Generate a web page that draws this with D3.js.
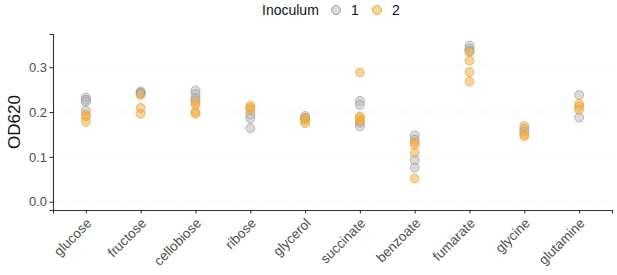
<!DOCTYPE html>
<html>
<head>
<meta charset="utf-8">
<script src="https://cdn.jsdelivr.net/npm/d3@7"></script>
<style>
  body { margin: 0; background: #fff; }
  text { font-family: "Liberation Sans", Arial, sans-serif; }
</style>
</head>
<body>
<svg id="svg" width="617" height="275"></svg>
<script>
// carbon sources on the x axis
let substrates = ["glucose", "fructose", "cellobiose", "ribose", "glycerol",
  "succinate", "benzoate", "fumarate", "glycine", "glutamine"];

// OD620 readings per substrate, inoculum 1
let inoc1 = [
  [0.232, 0.227, 0.223, 0.203],
  [0.246, 0.243, 0.241],
  [0.248, 0.240, 0.231, 0.226],
  [0.194, 0.186, 0.164],
  [0.191, 0.186],
  [0.225, 0.216, 0.176, 0.168],
  [0.148, 0.138, 0.093, 0.076],
  [0.348, 0.341, 0.336],
  [0.163, 0.157],
  [0.238, 0.188]
];

// OD620 readings per substrate, inoculum 2
let inoc2 = [
  [0.194, 0.190, 0.178],
  [0.238, 0.209, 0.196],
  [0.221, 0.216, 0.200, 0.196],
  [0.214, 0.209, 0.205],
  [0.187, 0.181, 0.175],
  [0.288, 0.190, 0.186, 0.180],
  [0.132, 0.127, 0.109, 0.052],
  [0.334, 0.315, 0.289, 0.268],
  [0.169, 0.150, 0.146],
  [0.218, 0.212, 0.205]
];

let yTicks = [0.0, 0.1, 0.2, 0.3];

let margin = { top: 34, right: 5, bottom: 65, left: 53 };
let width = 617, height = 275;

let svg = d3.select("#svg");

let x = d3.scalePoint()
  .domain(substrates)
  .range([margin.left, width - margin.right])
  .padding(0.6);

let y = d3.scaleLinear()
  .domain([-0.0185, 0.374])
  .range([height - margin.bottom, margin.top]);

// faint dotted grid
svg.append("g")
  .selectAll("line")
  .data(yTicks)
  .enter()
  .append("line")
  .attr("x1", margin.left)
  .attr("x2", width - margin.right)
  .attr("y1", d => y(d))
  .attr("y2", d => y(d))
  .attr("stroke", "#e4e4e4")
  .attr("stroke-width", 0.6)
  .attr("stroke-dasharray", "1.5,2");

// flatten data into points
let points = [];
substrates.forEach(function(s, i) {
  inoc1[i].forEach(v => points.push({ s: s, v: v, g: 1 }));
  inoc2[i].forEach(v => points.push({ s: s, v: v, g: 2 }));
});

let fill = { 1: "#b8b8b8", 2: "#f2a93b" };
let stroke = { 1: "#8c8c8c", 2: "#e39a2a" };

svg.append("g")
  .selectAll("circle")
  .data(points)
  .enter()
  .append("circle")
  .attr("cx", d => x(d.s))
  .attr("cy", d => y(d.v))
  .attr("r", 4.5)
  .attr("fill", d => fill[d.g])
  .attr("fill-opacity", 0.5)
  .attr("stroke", d => stroke[d.g])
  .attr("stroke-opacity", 0.7)
  .attr("stroke-width", 0.8);

// axes
let yAxis = svg.append("g")
  .attr("transform", "translate(" + margin.left + ",0)")
  .call(d3.axisLeft(y).tickValues(yTicks).tickFormat(d3.format(".1f")).tickSizeOuter(0).tickSize(3.5));

let xAxis = svg.append("g")
  .attr("transform", "translate(0," + (height - margin.bottom) + ")")
  .call(d3.axisBottom(x).tickSizeOuter(0).tickSize(3.5));

[yAxis, xAxis].forEach(function(a) {
  a.select(".domain").attr("stroke", "#333").attr("stroke-width", 1.1);
  a.selectAll(".tick line").attr("stroke", "#333").attr("stroke-width", 1.1);
  a.selectAll(".tick text").attr("fill", "#4d4d4d").style("font-size", "13px");
});

yAxis.selectAll(".tick text").attr("x", -6);

xAxis.selectAll(".tick text")
  .attr("text-anchor", "end")
  .attr("dy", null)
  .attr("y", 0)
  .style("font-size", "13.5px")
  .attr("transform", "translate(6,14) rotate(-45)");

// y label
svg.append("text")
  .attr("transform", "translate(20," + ((margin.top + height - margin.bottom) / 2) + ") rotate(-90)")
  .attr("text-anchor", "middle")
  .style("font-size", "17px")
  .attr("fill", "#111")
  .text("OD620");

// legend
let lg = svg.append("g").attr("transform", "translate(0,10)");
lg.append("text")
  .attr("x", 262)
  .attr("y", 5)
  .style("font-size", "14px")
  .attr("fill", "#111")
  .text("Inoculum");

let legendItems = [{ g: 1, cx: 336, tx: 351 }, { g: 2, cx: 377, tx: 392 }];
lg.selectAll("circle")
  .data(legendItems)
  .enter()
  .append("circle")
  .attr("cx", d => d.cx)
  .attr("cy", 0)
  .attr("r", 4.5)
  .attr("fill", d => fill[d.g])
  .attr("fill-opacity", 0.5)
  .attr("stroke", d => stroke[d.g])
  .attr("stroke-width", 0.8);

lg.selectAll(".lt")
  .data(legendItems)
  .enter()
  .append("text")
  .attr("x", d => d.tx)
  .attr("y", 5)
  .style("font-size", "14px")
  .attr("fill", "#111")
  .text(d => d.g);
</script>
</body>
</html>
